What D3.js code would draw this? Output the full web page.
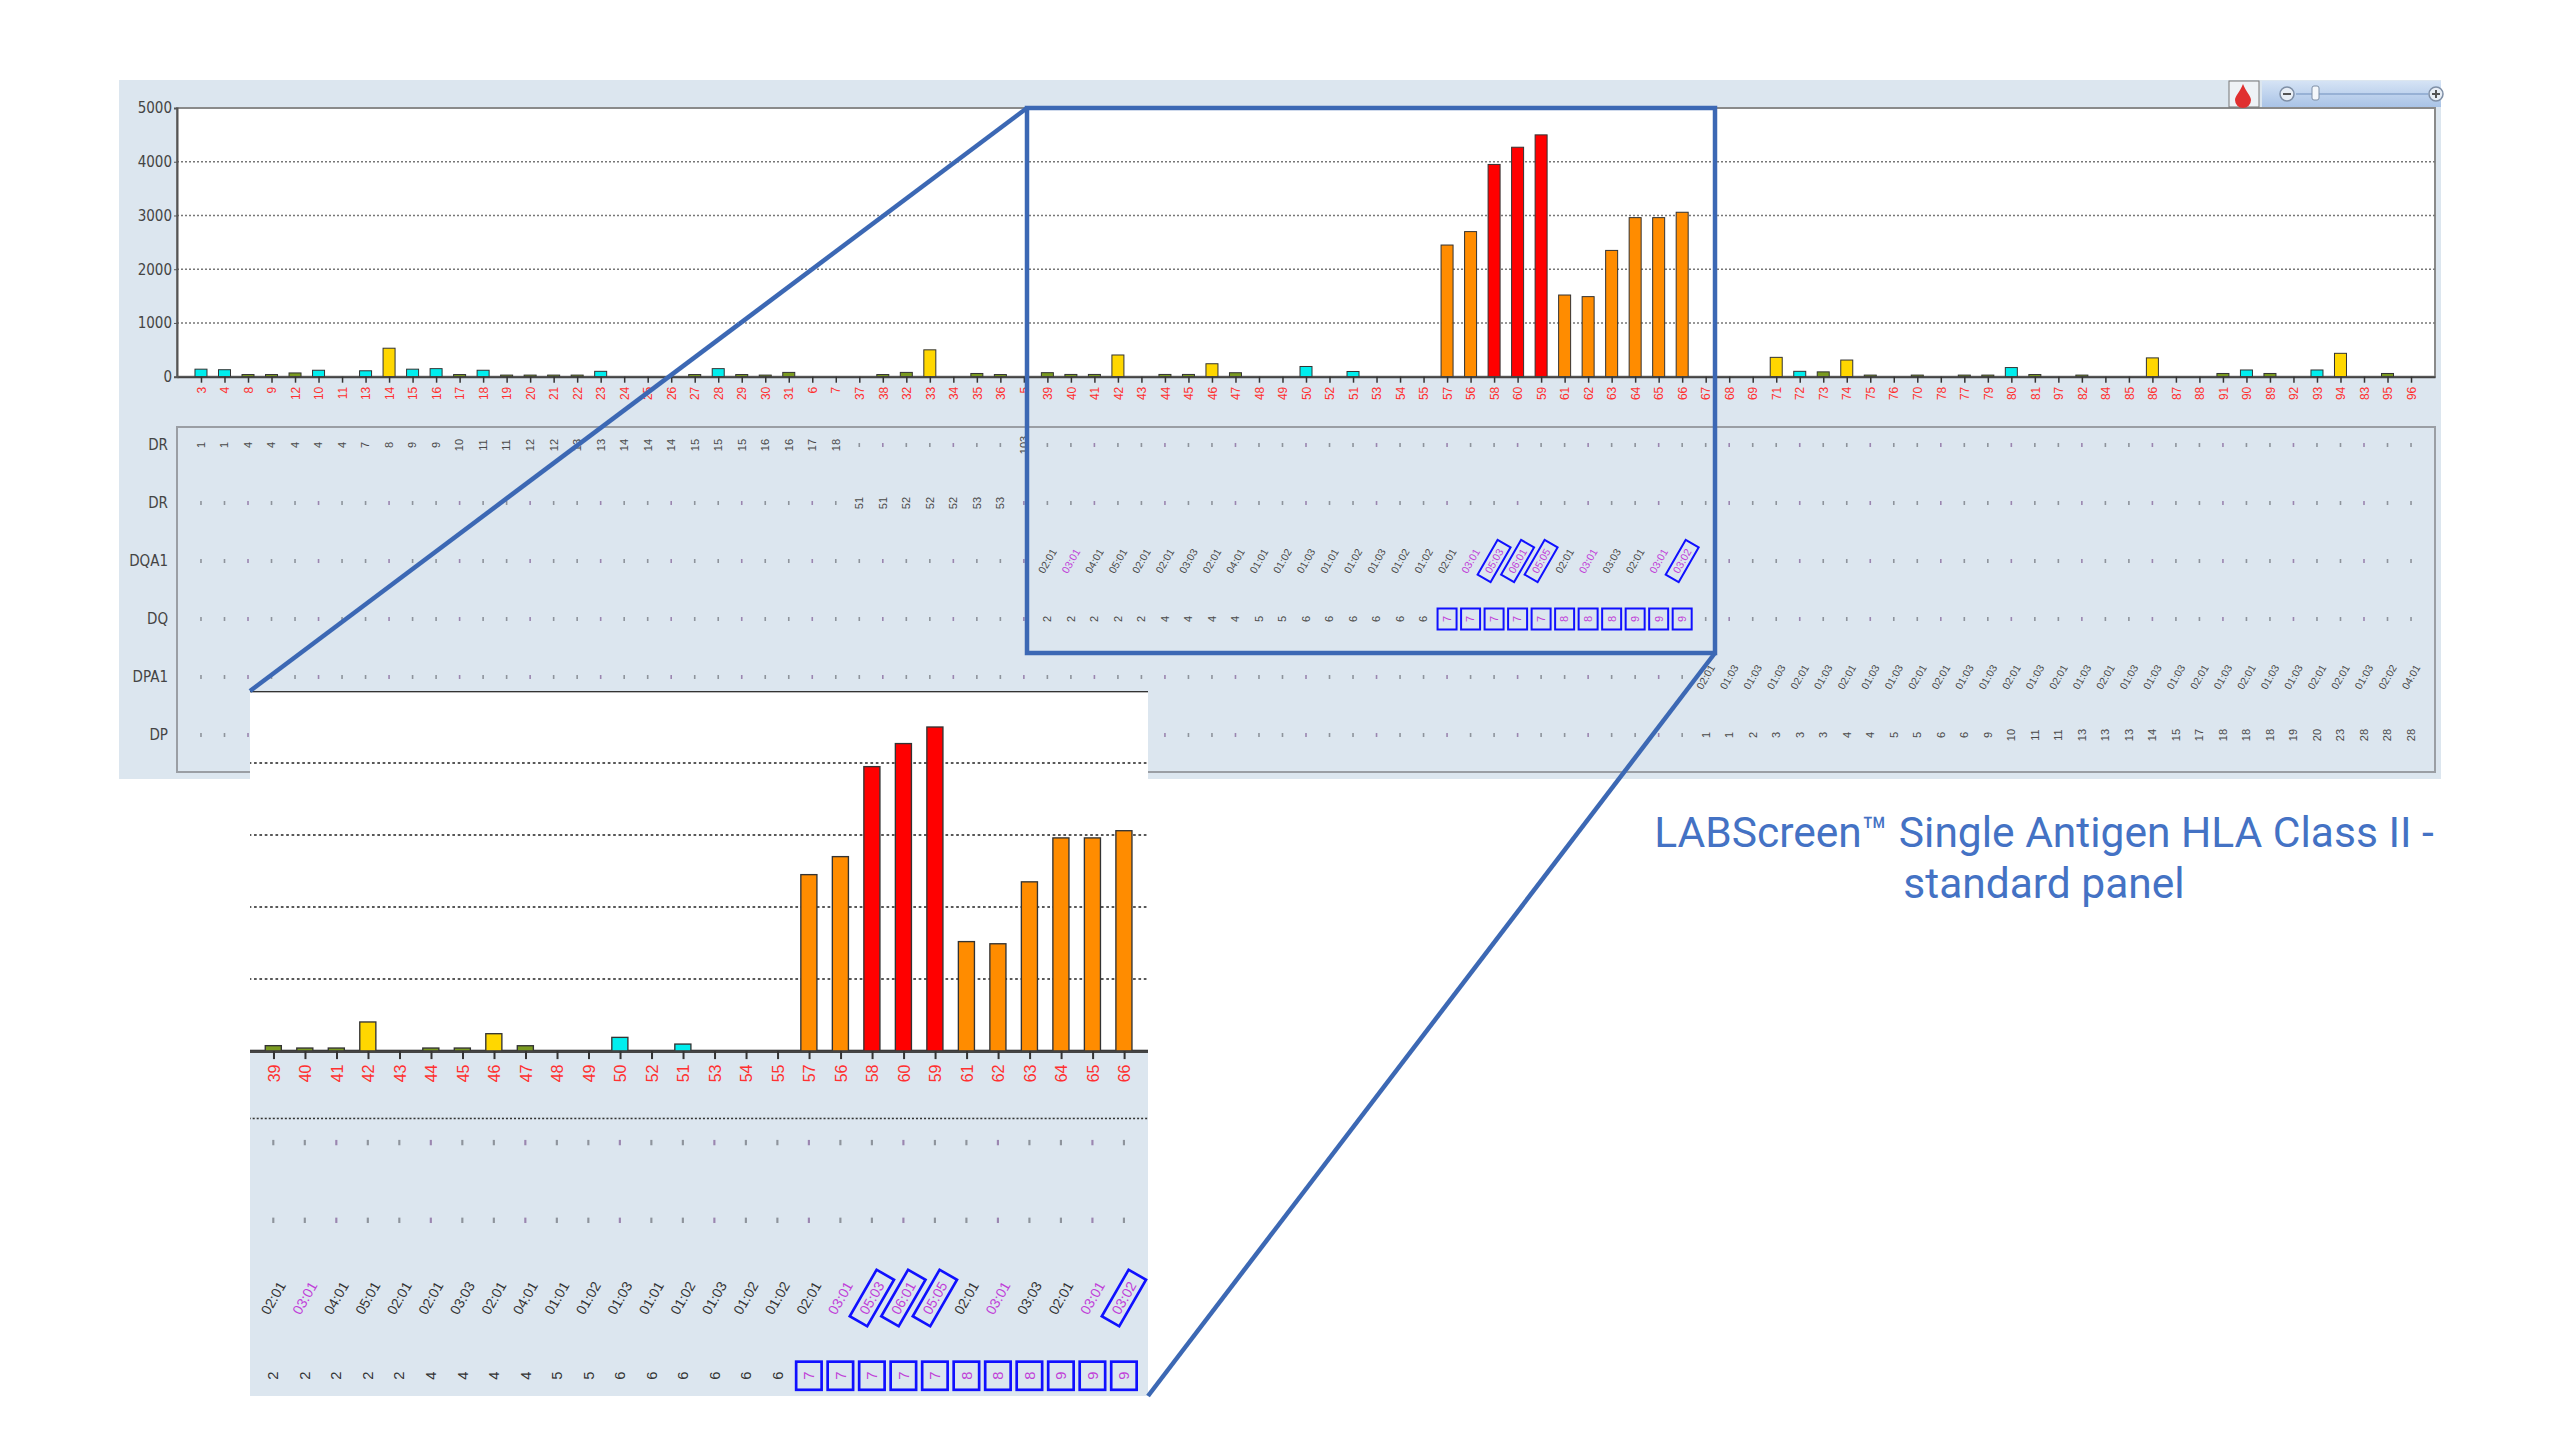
<!DOCTYPE html>
<html>
<head>
<meta charset="utf-8">
<script src="https://cdn.jsdelivr.net/npm/d3@7/dist/d3.min.js"></script>
<style>
  body { margin: 0; background: #fff; }
  svg { display: block; }
</style>
</head>
<body>
<div id="chart"></div>
<script>
// page size
const width = 2560;
const height = 1441;

// bead numbers along the x axis
const labels = ["3","4","8","9","12","10","11","13","14","15","16","17","18","19","20","21","22","23","24","25",
                "26","27","28","29","30","31","6","7","37","38","32","33","34","35","36","5","39","40","41","42",
                "43","44","45","46","47","48","49","50","52","51","53","54","55","57","56","58","60","59","61","62",
                "63","64","65","66","67","68","69","71","72","73","74","75","76","70","78","77","79","80","81","97",
                "82","84","85","86","87","88","91","90","89","92","93","94","83","95","96"];

// MFI per bead
const values = [140,130,40,40,70,120,0,110,530,140,150,40,120,30,30,30,30,100,0,0,
                0,40,150,40,30,80,0,0,0,40,80,500,0,60,40,0,75,42,42,404,
                0,42,42,241,74,0,0,190,0,97,0,0,0,2450,2700,3950,4270,4500,1520,1490,
                2350,2960,2960,3060,0,0,0,360,100,90,310,30,0,30,0,30,30,170,40,0,
                30,0,0,350,0,0,60,125,60,0,125,435,0,60,0];

const yTicks = [0, 1000, 2000, 3000, 4000, 5000];
const rowNames = ["DR", "DR", "DQA1", "DQ", "DPA1", "DP"];

// antigen table rows, each starting at a bead index
const drB1Start = 0;
const drB1 = ["1","1","4","4","4","4","4","7","8","9","9","10","11","11","12","12","13","13","14","14",
              "14","15","15","15","16","16","17","18",null,null,null,null,null,null,null,"103"];
const drB345Start = 28;
const drB345 = ["51","51","52","52","52","53","53"];
const dqa1Start = 36;
const dqa1 = ["02:01","03:01","04:01","05:01","02:01","02:01","03:03","02:01","04:01","01:01",
              "01:02","01:03","01:01","01:02","01:03","01:02","01:02","02:01","03:01","05:03",
              "06:01","05:05","02:01","03:01","03:03","02:01","03:01","03:02"];
const dqb1Start = 36;
const dqb1 = ["2","2","2","2","2","4","4","4","4","5","5","6","6","6","6","6","6",
              "7","7","7","7","7","8","8","8","9","9","9"];
const dpa1Start = 64;
const dpa1 = ["02:01","01:03","01:03","01:03","02:01","01:03","02:01","01:03","01:03","02:01",
              "02:01","01:03","01:03","02:01","01:03","02:01","01:03","02:01","01:03","01:03",
              "01:03","02:01","01:03","02:01","01:03","01:03","02:01","02:01","01:03","02:02","04:01"];
const dpb1Start = 64;
const dpb1 = ["1","1","2","3","3","3","4","4","5","5","6","6","9","10","11","11","13","13","13","14",
              "15","17","18","18","18","19","20","23","28","28","28"];

// beads flagged in the table
const dqa1Boxed = [55, 56, 57, 63];
const dqb1Boxed = [53, 54, 55, 56, 57, 58, 59, 60, 61, 62, 63];

// beads shown in the zoomed inset
const insetFirst = 36;
const insetLast = 63;

const titleLines = ["LABScreen\u2122 Single Antigen HLA Class II -", "standard panel"];

// scales
const X = d3.scalePoint().domain(d3.range(labels.length)).range([177, 2435]).padding(1.02);
const Y = d3.scaleLinear().domain([0, 5000]).range([376.7, 108]);
const ROW = d3.scalePoint().domain(d3.range(rowNames.length)).range([445, 735]);
const COLOR = d3.scaleThreshold()
                .domain([95, 200, 1000, 3500])
                .range(["#7a9a20", "#00eeee", "#ffd700", "#ff8c00", "#ff0000"]);

const narrow = "'Liberation Sans Narrow', 'DejaVu Sans Condensed', 'Liberation Sans', sans-serif";
const plain = "'Liberation Sans', Arial, sans-serif";

const svg = d3.select("#chart")
              .append("svg")
                .attr("width", width)
                .attr("height", height);
const defs = svg.append("defs");

const tableRows = [
  {start: drB1Start, vals: drB1, rot: -90, boxed: []},
  {start: drB345Start, vals: drB345, rot: -90, boxed: []},
  {start: dqa1Start, vals: dqa1, rot: -60, boxed: dqa1Boxed},
  {start: dqb1Start, vals: dqb1, rot: -90, boxed: dqb1Boxed},
  {start: dpa1Start, vals: dpa1, rot: -60, boxed: []},
  {start: dpb1Start, vals: dpb1, rot: -90, boxed: []}
];

// draws the whole screen panel into g (used for the main view and the zoomed inset)
function drawChart(g, inset) {
  const x0 = X.range()[0], x1 = X.range()[1];
  const shown = i => !inset || (i >= insetFirst && i <= insetLast);

  // panel background
  g.append("rect")
    .attr("x", 119).attr("y", 80)
    .attr("width", 2441 - 119).attr("height", 779 - 80)
    .attr("fill", "#dce6ef");

  // plot area
  g.append("rect")
    .attr("x", x0).attr("y", Y(5000))
    .attr("width", x1 - x0).attr("height", Y(0) - Y(5000))
    .attr("fill", "#fff")
    .attr("stroke", inset ? "#333" : "#8a8a8a")
    .attr("stroke-width", 2);

  // dotted grid
  g.selectAll(".grid")
    .data(yTicks.filter(t => t > 0 && t < 5000))
    .enter().append("line")
      .attr("x1", x0).attr("x2", x1)
      .attr("y1", d => Y(d)).attr("y2", d => Y(d))
      .attr("stroke", inset ? "#222" : "#777")
      .attr("stroke-width", inset ? 1.1 : 1.6)
      .attr("stroke-dasharray", "2,2");

  // bars
  g.selectAll(".bar")
    .data(values.map((v, i) => ({i: i, v: v})).filter(d => d.v > 0 && shown(d.i)))
    .enter().append("rect")
      .attr("x", d => X(d.i) - 6)
      .attr("y", d => Y(d.v))
      .attr("width", 12)
      .attr("height", d => Y(0) - Y(d.v))
      .attr("fill", d => COLOR(d.v))
      .attr("stroke", "#333")
      .attr("stroke-width", 1);

  // x axis
  const xAxis = g.append("g")
    .attr("transform", "translate(0," + Y(0) + ")")
    .call(d3.axisBottom(X).tickSize(6).tickSizeOuter(0).tickFormat(i => labels[i]));
  xAxis.select(".domain").attr("stroke", "#444").attr("stroke-width", 2);
  xAxis.selectAll(".tick").filter(i => !shown(i)).select("text").remove();
  xAxis.selectAll(".tick line").attr("stroke", "#333").attr("stroke-width", 1.5);
  xAxis.selectAll("text")
    .attr("transform", "rotate(-90)")
    .attr("text-anchor", "end")
    .attr("x", -10).attr("y", 0).attr("dy", "0.35em")
    .attr("fill", "#ff3030")
    .style("font-family", plain)
    .style("font-size", "12px");

  // y axis
  const yAxis = g.append("g")
    .attr("transform", "translate(" + x0 + ",0)")
    .call(d3.axisLeft(Y).tickValues(yTicks).tickFormat(d3.format("d")).tickSize(3).tickPadding(2));
  yAxis.select(".domain").attr("stroke", "#555").attr("stroke-width", 2);
  yAxis.selectAll(".tick line").attr("stroke", "#555");
  if (inset) {
    yAxis.selectAll("text").remove();
  } else {
    yAxis.selectAll("text")
      .attr("fill", "#444")
      .style("font-family", narrow)
      .style("font-size", "15px");
  }

  // antigen table frame
  g.append("rect")
    .attr("x", x0).attr("y", 427)
    .attr("width", x1 - x0).attr("height", 772 - 427)
    .attr("fill", "none")
    .attr("stroke", "#9a9ea4")
    .attr("stroke-width", 2);
  if (inset) {
    g.append("rect")
      .attr("x", x0).attr("y", 426)
      .attr("width", x1 - x0).attr("height", 3)
      .attr("fill", "#dce6ef");
    g.append("line")
      .attr("x1", x0).attr("x2", x1).attr("y1", 427).attr("y2", 427)
      .attr("stroke", "#333").attr("stroke-width", 1.1).attr("stroke-dasharray", "1.5,1.5");
  }

  // row labels
  if (!inset) {
    g.selectAll(".rowname")
      .data(rowNames)
      .enter().append("text")
        .attr("x", 168)
        .attr("y", (d, r) => ROW(r) + 5)
        .attr("text-anchor", "end")
        .attr("fill", "#444")
        .style("font-family", narrow)
        .style("font-size", "15px")
        .text(d => d);
  }

  // table cells
  tableRows.forEach((row, r) => {
    if (inset && r > 3) return;
    const ry = ROW(r);
    const cells = labels.map((l, i) => {
      const k = i - row.start;
      const v = (k >= 0 && k < row.vals.length) ? row.vals[k] : null;
      return {i: i, v: v, boxed: row.boxed.includes(i)};
    }).filter(c => shown(c.i));

    // empty cells get a small mark
    g.selectAll(".dot" + r)
      .data(cells.filter(c => c.v === null))
      .enter().append("rect")
        .attr("x", c => X(c.i) - 0.8)
        .attr("y", ry - 2)
        .attr("width", 1.6).attr("height", 4)
        .attr("fill", c => c.i % 3 === 2 ? "#9b86b0" : "#8e949c");

    const cell = g.selectAll(".cell" + r)
      .data(cells.filter(c => c.v !== null))
      .enter().append("g")
        .attr("transform", c => "translate(" + X(c.i) + "," + ry + ")");

    if (row.rot === -60) {
      cell.filter(c => c.boxed).append("rect")
        .attr("transform", "rotate(-60)")
        .attr("x", -20).attr("y", -7.5)
        .attr("width", 40).attr("height", 15)
        .attr("fill", "none")
        .attr("stroke", "#1010ff")
        .attr("stroke-width", 2);
    } else {
      cell.filter(c => c.boxed).append("rect")
        .attr("x", -9.5).attr("y", -10.5)
        .attr("width", 19).attr("height", 21)
        .attr("fill", "none")
        .attr("stroke", "#1010ff")
        .attr("stroke-width", 2);
    }

    cell.append("text")
      .attr("transform", "rotate(" + row.rot + ")")
      .attr("text-anchor", "middle")
      .attr("dy", "0.35em")
      .attr("fill", c => (c.boxed || (r === 2 && c.v === "03:01")) ? "#c040d8" : (inset ? "#333" : "#4a4a4a"))
      .style("font-family", plain)
      .style("font-size", row.rot === -60 ? "10.5px" : "11px")
      .text(c => c.v);
  });
}

// main view
const mainView = svg.append("g");
drawChart(mainView, false);

// little toolbar in the top right corner
const tools = svg.append("g");
const grad = defs.append("linearGradient")
  .attr("id", "toolGrad").attr("x1", 0).attr("x2", 0).attr("y1", 0).attr("y2", 1);
grad.append("stop").attr("offset", "0").attr("stop-color", "#d5e3f5");
grad.append("stop").attr("offset", "1").attr("stop-color", "#a9c3e6");
tools.append("rect").attr("x", 2229).attr("y", 81).attr("width", 30).attr("height", 26)
  .attr("fill", "#eef2f6").attr("stroke", "#777").attr("stroke-width", 1);
tools.append("path")
  .attr("d", "M2243,84 C2246,92 2251,96 2251,100 A7,7 0 0 1 2235,100 C2235,96 2240,92 2243,84 Z")
  .attr("fill", "#e03030");
tools.append("rect").attr("x", 2262).attr("y", 81).attr("width", 179).attr("height", 26)
  .attr("fill", "url(#toolGrad)");
tools.append("line").attr("x1", 2296).attr("x2", 2428).attr("y1", 94).attr("y2", 94)
  .attr("stroke", "#8aa6cc").attr("stroke-width", 1.5);
[2287, 2436].forEach((cx, k) => {
  tools.append("circle").attr("cx", cx).attr("cy", 94).attr("r", 7)
    .attr("fill", "#e8eef6").attr("stroke", "#7f8fa6").attr("stroke-width", 1.5);
  tools.append("line").attr("x1", cx - 4).attr("x2", cx + 4).attr("y1", 94).attr("y2", 94)
    .attr("stroke", "#555").attr("stroke-width", 2);
  if (k === 1) {
    tools.append("line").attr("x1", cx).attr("x2", cx).attr("y1", 90).attr("y2", 98)
      .attr("stroke", "#555").attr("stroke-width", 2);
  }
});
tools.append("rect").attr("x", 2312).attr("y", 86).attr("width", 7).attr("height", 14).attr("rx", 2)
  .attr("fill", "#f4f7fb").attr("stroke", "#7f8fa6");

// zoomed inset of beads 39..66
const S = 1.34;
const tx = 273.3 - S * X(insetFirst);
const ty = 691 - S * Y(5000);
defs.append("clipPath").attr("id", "insetClip")
  .append("rect").attr("x", 250).attr("y", 691).attr("width", 898).attr("height", 705);
const insetView = svg.append("g")
  .attr("clip-path", "url(#insetClip)")
  .append("g")
    .attr("transform", "translate(" + tx + "," + ty + ") scale(" + S + ")");
drawChart(insetView, true);

// callout frame and connector lines
const blue = "#3c68b4";
svg.append("rect")
  .attr("x", 1027).attr("y", Y(5000))
  .attr("width", 1715 - 1027).attr("height", 653 - Y(5000))
  .attr("fill", "none").attr("stroke", blue).attr("stroke-width", 4.5);
svg.append("line")
  .attr("x1", 1027).attr("y1", Y(5000)).attr("x2", 250).attr("y2", 691)
  .attr("stroke", blue).attr("stroke-width", 4.5);
svg.append("line")
  .attr("x1", 1715).attr("y1", 653).attr("x2", 1148).attr("y2", 1396)
  .attr("stroke", blue).attr("stroke-width", 4.5);

// caption
svg.append("text")
  .attr("x", 2044).attr("y", 847)
  .attr("text-anchor", "middle")
  .attr("fill", "#4472c4")
  .style("font-family", "Roboto, 'Noto Sans', sans-serif")
  .style("font-size", "42.5px")
  .selectAll("tspan")
  .data(titleLines)
  .enter().append("tspan")
    .attr("x", 2044)
    .attr("dy", (d, i) => i === 0 ? 0 : 51)
    .text(d => d);
</script>
</body>
</html>
